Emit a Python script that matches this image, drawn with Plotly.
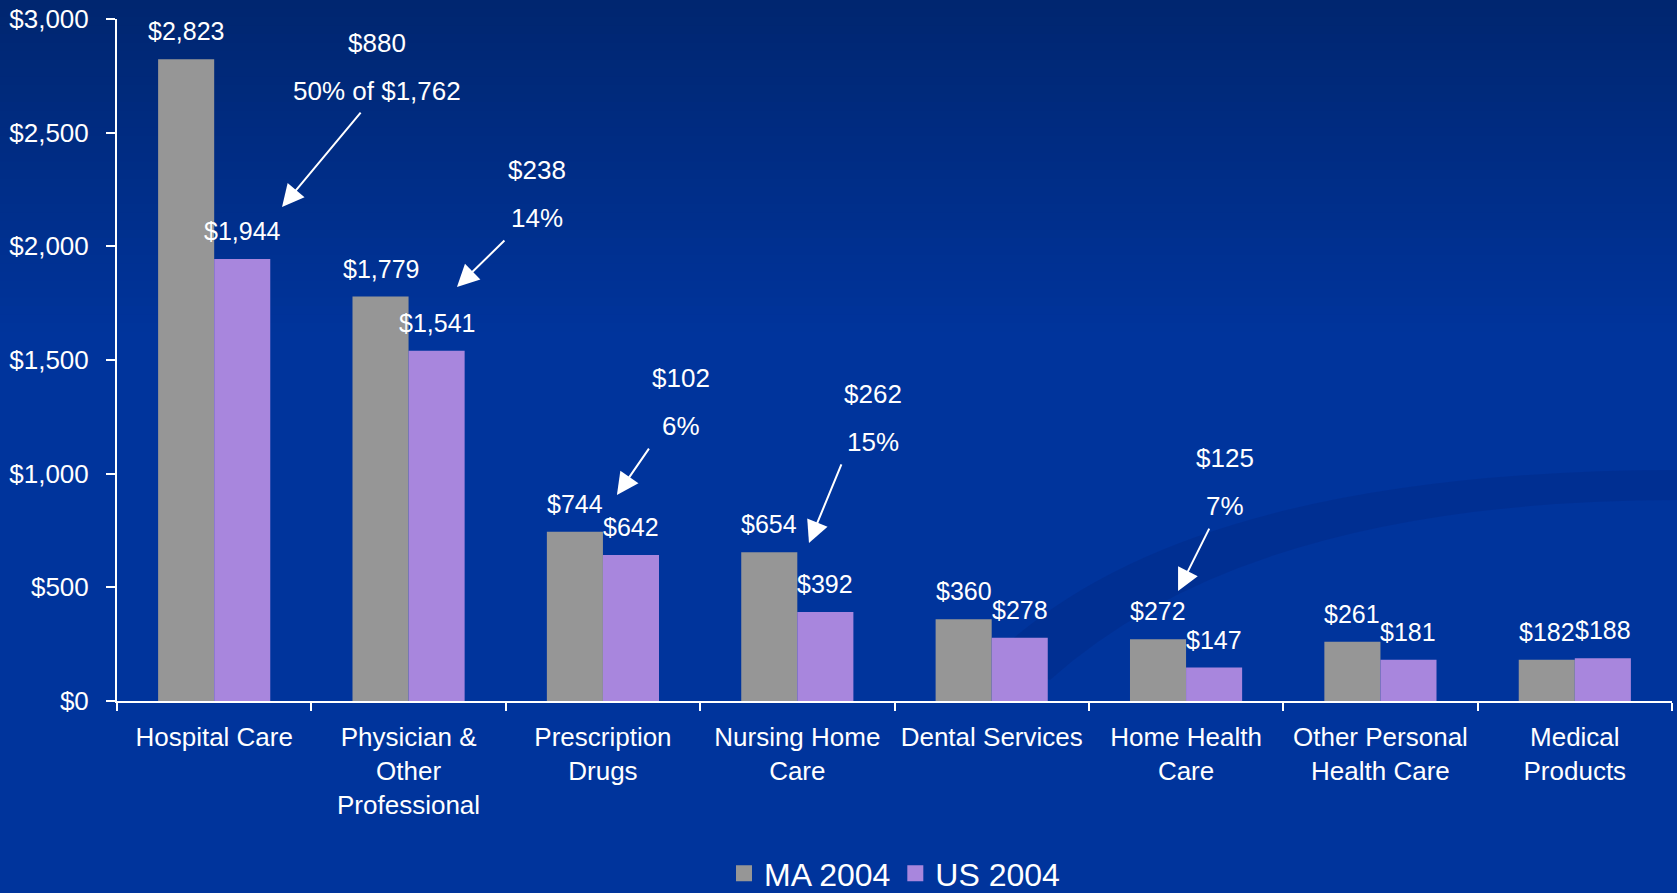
import plotly.graph_objects as go

# ---------------- data ----------------
categories = ["Hospital Care", "Physician &<br>Other<br>Professional", "Prescription<br>Drugs",
              "Nursing Home<br>Care", "Dental Services", "Home Health<br>Care",
              "Other Personal<br>Health Care", "Medical<br>Products"]
ma_2004 = [2823, 1779, 744, 654, 360, 272, 261, 182]
us_2004 = [1944, 1541, 642, 392, 278, 147, 181, 188]
series_names = ["MA 2004", "US 2004"]
y_ticks = [0, 500, 1000, 1500, 2000, 2500, 3000]
y_tick_text = ["$" + format(v, ",") for v in y_ticks]

# callouts: (label1, label2, x index, y for label1, y for label2, arrow tail x, tail y, head x, head y)
callouts = [
    ("$880", "50% of $1,762", 0.838, 2894, 2683, 0.760, 2595, 0.349, 2173),
    ("$238", "14%", 1.663, 2336, 2125, 1.501, 2032, 1.249, 1821),
    ("$102", "6%", 2.402, 1421, 1210, 2.242, 1117, 2.072, 906),
    ("$262", "15%", 3.389, 1350, 1139, 3.230, 1047, 3.060, 695),
    ("$125", "7%", 5.200, 1069, 858, 5.123, 765, 4.959, 484),
]

# ---------------- style ----------------
FONT = "Arial, 'Liberation Sans', sans-serif"
WHITE = "#FFFFFF"
GRAY = "#969696"
PURPLE = "#A886DD"
W, H = 1677, 893
ML, MR, MT, MB = 117, 5, 19, 192
BARGAP = 0.423
half = (1 - BARGAP) / 4.0
pa_h = H - MT - MB
pa_w = W - ML - MR


def px(xp):
    return (xp - ML) / pa_w


def py(yp):
    return (H - MB - yp) / pa_h


fig = go.Figure()
fig.add_trace(go.Bar(x=categories, y=ma_2004, name=series_names[0], marker_color=GRAY,
                     marker_line_width=0, hoverinfo="skip", showlegend=False))
fig.add_trace(go.Bar(x=categories, y=us_2004, name=series_names[1], marker_color=PURPLE,
                     marker_line_width=0, hoverinfo="skip", showlegend=False))
# legend entries with larger square swatches
for nm, col in zip(series_names, [GRAY, PURPLE]):
    fig.add_trace(go.Scatter(x=[categories[0]], y=[None], mode="markers", name=nm,
                             marker=dict(symbol="square", size=20, color=col, line_width=0),
                             hoverinfo="skip", showlegend=True))

annotations = []
for i, (a, b) in enumerate(zip(ma_2004, us_2004)):
    annotations.append(dict(x=i - half, y=a, xref="x", yref="y", text=f"${a:,}", showarrow=False,
                            yanchor="bottom", yshift=12, font=dict(size=25, color=WHITE, family=FONT)))
    annotations.append(dict(x=i + half, y=b, xref="x", yref="y", text=f"${b:,}", showarrow=False,
                            yanchor="bottom", yshift=12, font=dict(size=25, color=WHITE, family=FONT)))

for (t1, t2, xi, y1, y2, tx, ty, hx, hy) in callouts:
    annotations.append(dict(x=xi, y=y1, xref="x", yref="y", text=t1, showarrow=False,
                            font=dict(size=26, color=WHITE, family=FONT)))
    annotations.append(dict(x=xi, y=y2, xref="x", yref="y", text=t2, showarrow=False,
                            font=dict(size=26, color=WHITE, family=FONT)))
    annotations.append(dict(x=hx, y=hy, ax=tx, ay=ty, xref="x", yref="y", axref="x", ayref="y",
                            text="", showarrow=True, arrowhead=2, arrowsize=2.2, arrowwidth=2,
                            arrowcolor=WHITE, standoff=0, startstandoff=0))

# background gradient (decorative)
shapes = []
top_c = (0, 38, 112)
bot_c = (0, 52, 156)
n = 40
band_px = 340 / n
for k in range(n):
    f = k / (n - 1)
    c = tuple(int(round(top_c[j] + (bot_c[j] - top_c[j]) * f)) for j in range(3))
    y_top_px = k * band_px
    y_bot_px = (k + 1) * band_px + 1
    shapes.append(dict(type="rect", xref="paper", yref="paper", layer="below",
                       x0=px(-5), x1=px(W + 5), y0=py(y_bot_px), y1=py(y_top_px),
                       line_width=0, fillcolor=f"rgb{c}"))

# faint decorative swoosh (lower right)
sw1 = (f"M {px(990)},{py(660)} Q {px(1180)},{py(470)} {px(1680)},{py(470)} "
       f"L {px(1680)},{py(500)} Q {px(1250)},{py(500)} {px(1050)},{py(680)} Z")
shapes.append(dict(type="path", xref="paper", yref="paper", layer="below", path=sw1,
                   fillcolor="rgba(0,30,110,0.2)", line_width=0))

fig.update_layout(
    width=W, height=H, autosize=False,
    margin=dict(l=ML, r=MR, t=MT, b=MB, pad=0, autoexpand=False),
    paper_bgcolor="rgb(0,52,156)", plot_bgcolor="rgba(0,0,0,0)",
    barmode="group", bargap=BARGAP, bargroupgap=0,
    font=dict(family=FONT, color=WHITE, size=24),
    showlegend=True,
    legend=dict(orientation="h", x=0.5, xanchor="center", yref="container", y=0.022,
                yanchor="middle",
                font=dict(size=32, color=WHITE, family=FONT), bgcolor="rgba(0,0,0,0)",
                itemwidth=30, tracegroupgap=0, itemsizing="trace"),
    annotations=annotations,
    shapes=shapes,
    xaxis=dict(showline=True, linecolor=WHITE, linewidth=2, ticks="outside", tickson="boundaries",
               ticklen=8, tickwidth=2, tickcolor=WHITE, showgrid=False, zeroline=False,
               tickfont=dict(size=26, color=WHITE, family=FONT), ticklabelstandoff=12,
               fixedrange=True, automargin=False),
    yaxis=dict(range=[0, 3000], tickvals=y_ticks, ticktext=y_tick_text,
               showline=True, linecolor=WHITE, linewidth=2, ticks="outside", ticklen=9,
               tickwidth=2, tickcolor=WHITE, showgrid=False, zeroline=False,
               tickfont=dict(size=26, color=WHITE, family=FONT), ticklabelstandoff=12,
               fixedrange=True, automargin=False),
)

fig.write_html("out.html", config={"displayModeBar": False},
               post_script="document.body.style.margin='0';document.body.style.padding='0';")
